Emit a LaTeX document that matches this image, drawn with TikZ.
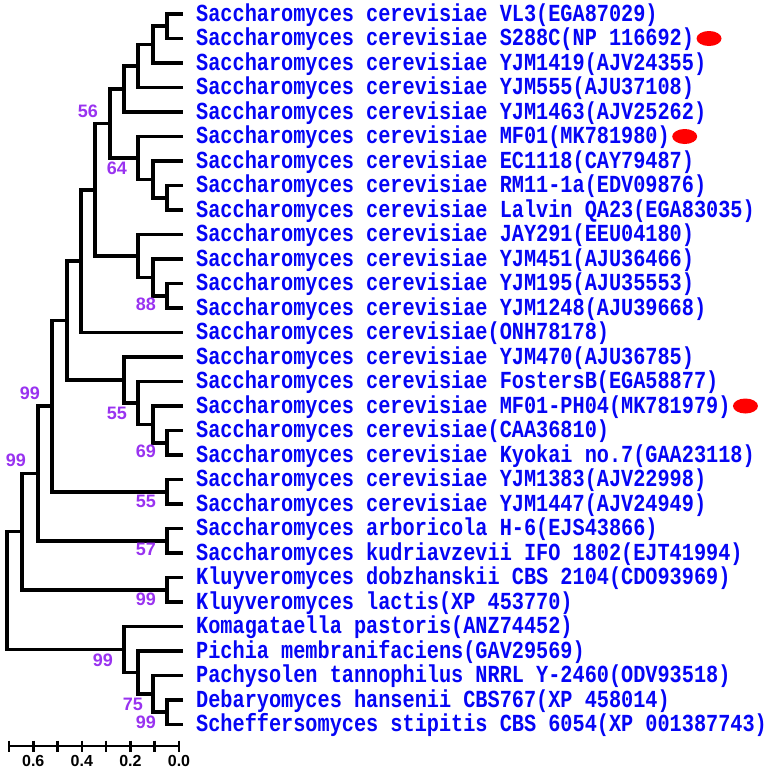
\documentclass[tikz,border=0pt]{standalone}
\usepackage{fontspec}
\usepackage{tikz}
\usetikzlibrary{positioning, shapes.geometric}
\usepackage{xcolor}
\newfontfamily\taxfont{Liberation Mono Bold}[FakeStretch=0.826]
\newfontfamily\bootfont{Liberation Sans Bold}
\definecolor{TaxBlue}{HTML}{0505F5}
\definecolor{BootPurple}{HTML}{9933F0}
\definecolor{MarkRed}{HTML}{FF0000}

\begin{document}
\begin{tikzpicture}[x=1pt, y=-1pt,
  branch/.style={line width=3.6pt, line join=miter, black},
  taxon/.style={anchor=west, inner sep=0pt, text height=14pt, text depth=0pt,
    text=TaxBlue, font=\taxfont\fontsize{24.5}{26}\selectfont},
  boot/.style={inner sep=0pt, text=BootPurple, font=\bootfont\fontsize{18}{20}\selectfont},
  reddot/.style={ellipse, fill=MarkRed, inner sep=0pt, minimum width=25pt, minimum height=15pt},
  scalebar/.style={line width=2.5pt, black},
  scalelab/.style={inner sep=0pt, font=\bootfont\fontsize{16}{18}\selectfont}]
  \useasboundingbox (0,0) rectangle (771,769);
  % Leaves and taxon names
  \foreach \i/\lab in {
    0/{Saccharomyces cerevisiae VL3(EGA87029)},
    1/{Saccharomyces cerevisiae S288C(NP 116692)},
    2/{Saccharomyces cerevisiae YJM1419(AJV24355)},
    3/{Saccharomyces cerevisiae YJM555(AJU37108)},
    4/{Saccharomyces cerevisiae YJM1463(AJV25262)},
    5/{Saccharomyces cerevisiae MF01(MK781980)},
    6/{Saccharomyces cerevisiae EC1118(CAY79487)},
    7/{Saccharomyces cerevisiae RM11-1a(EDV09876)},
    8/{Saccharomyces cerevisiae Lalvin QA23(EGA83035)},
    9/{Saccharomyces cerevisiae JAY291(EEU04180)},
    10/{Saccharomyces cerevisiae YJM451(AJU36466)},
    11/{Saccharomyces cerevisiae YJM195(AJU35553)},
    12/{Saccharomyces cerevisiae YJM1248(AJU39668)},
    13/{Saccharomyces cerevisiae(ONH78178)},
    14/{Saccharomyces cerevisiae YJM470(AJU36785)},
    15/{Saccharomyces cerevisiae FostersB(EGA58877)},
    16/{Saccharomyces cerevisiae MF01-PH04(MK781979)},
    17/{Saccharomyces cerevisiae(CAA36810)},
    18/{Saccharomyces cerevisiae Kyokai no.7(GAA23118)},
    19/{Saccharomyces cerevisiae YJM1383(AJV22998)},
    20/{Saccharomyces cerevisiae YJM1447(AJV24949)},
    21/{Saccharomyces arboricola H-6(EJS43866)},
    22/{Saccharomyces kudriavzevii IFO 1802(EJT41994)},
    23/{Kluyveromyces dobzhanskii CBS 2104(CDO93969)},
    24/{Kluyveromyces lactis(XP 453770)},
    25/{Komagataella pastoris(ANZ74452)},
    26/{Pichia membranifaciens(GAV29569)},
    27/{Pachysolen tannophilus NRRL Y-2460(ODV93518)},
    28/{Debaryomyces hansenii CBS767(XP 458014)},
    29/{Scheffersomyces stipitis CBS 6054(XP 001387743)}} {
    \coordinate (l\i) at (183, 14+24.5*\i);
    \node[taxon] (t\i) at (196, 14+24.5*\i) {\lab};
  }
  % Red marks
  \node[reddot, right=2pt of t1] (r1) {};
  \node[reddot, right=2pt of t5] (r5) {};
  \node[reddot, right=2pt of t16] (r16) {};
  % Internal nodes
  \coordinate (a1) at (167, 26.25);
  \coordinate (a2) at (153, 44.63);
  \coordinate (a3) at (138, 66.06);
  \coordinate (a4) at (124, 89.03);
  \coordinate (b1) at (167, 197.75);
  \coordinate (b2) at (153, 179.38);
  \coordinate (b3) at (138, 157.94);
  \coordinate (ab) at (110, 123.48);
  \coordinate (c1) at (167, 295.75);
  \coordinate (c2) at (153, 277.38);
  \coordinate (c3) at (138, 255.94);
  \coordinate (abc) at (95, 189.71);
  \coordinate (d) at (81, 261.1);
  \coordinate (e1) at (167, 442.75);
  \coordinate (e2) at (153, 424.38);
  \coordinate (e3) at (138, 402.94);
  \coordinate (e4) at (124, 379.97);
  \coordinate (f) at (67, 320.54);
  \coordinate (g1) at (167, 491.75);
  \coordinate (g) at (52, 406.14);
  \coordinate (h1) at (167, 540.75);
  \coordinate (h) at (38, 473.45);
  \coordinate (k1) at (167, 589.75);
  \coordinate (k) at (22, 531.6);
  \coordinate (m1) at (167, 712.25);
  \coordinate (m2) at (153, 693.88);
  \coordinate (m3) at (138, 672.44);
  \coordinate (m4) at (124, 649.47);
  \coordinate (root) at (7, 590.5);
  % Branches
  \foreach \p/\c in {a1/l0, a1/l1, a2/a1, a2/l2, a3/a2, a3/l3, a4/a3, a4/l4,
    b1/l7, b1/l8, b2/l6, b2/b1, b3/l5, b3/b2, ab/a4, ab/b3,
    c1/l11, c1/l12, c2/l10, c2/c1, c3/l9, c3/c2, abc/ab, abc/c3, d/abc, d/l13,
    e1/l17, e1/l18, e2/l16, e2/e1, e3/l15, e3/e2, e4/l14, e4/e3, f/d, f/e4,
    g1/l19, g1/l20, g/f, g/g1, h1/l21, h1/l22, h/g, h/h1,
    k1/l23, k1/l24, k/h, k/k1,
    m1/l28, m1/l29, m2/l27, m2/m1, m3/l26, m3/m2, m4/l25, m4/m3,
    root/k, root/m4}
    \draw[branch] (\p) |- (\c);
  % Bootstrap values
  \foreach \n/\v/\dx/\dy in {ab/56/-22/-12, b3/64/-21/10, c1/88/-21/9,
    e3/55/-21/10, e1/69/-21/9, g/99/-22/-13, h/99/-22/-13, g1/55/-21/10,
    h1/57/-21/9, k1/99/-21/10, m4/99/-21/10.5, m2/75/-20/11, m1/99/-21/10}
    \node[boot] (bs\n) at ([shift={(\dx,\dy)}]\n) {\v};
  % Scale bar
  \coordinate (s0) at (179, 746);
  \coordinate (s7) at (9, 746);
  \draw[scalebar] (s7) -- (s0);
  \foreach \t in {0,...,7}
    \draw[scalebar] (179-24.29*\t, 740.5) -- (179-24.29*\t, 751.5);
  \foreach \t/\v in {0/0.0, 2/0.2, 4/0.4, 6/0.6}
    \node[scalelab] (sl\t) at (179-24.29*\t, 761) {\v};
\end{tikzpicture}
\end{document}
